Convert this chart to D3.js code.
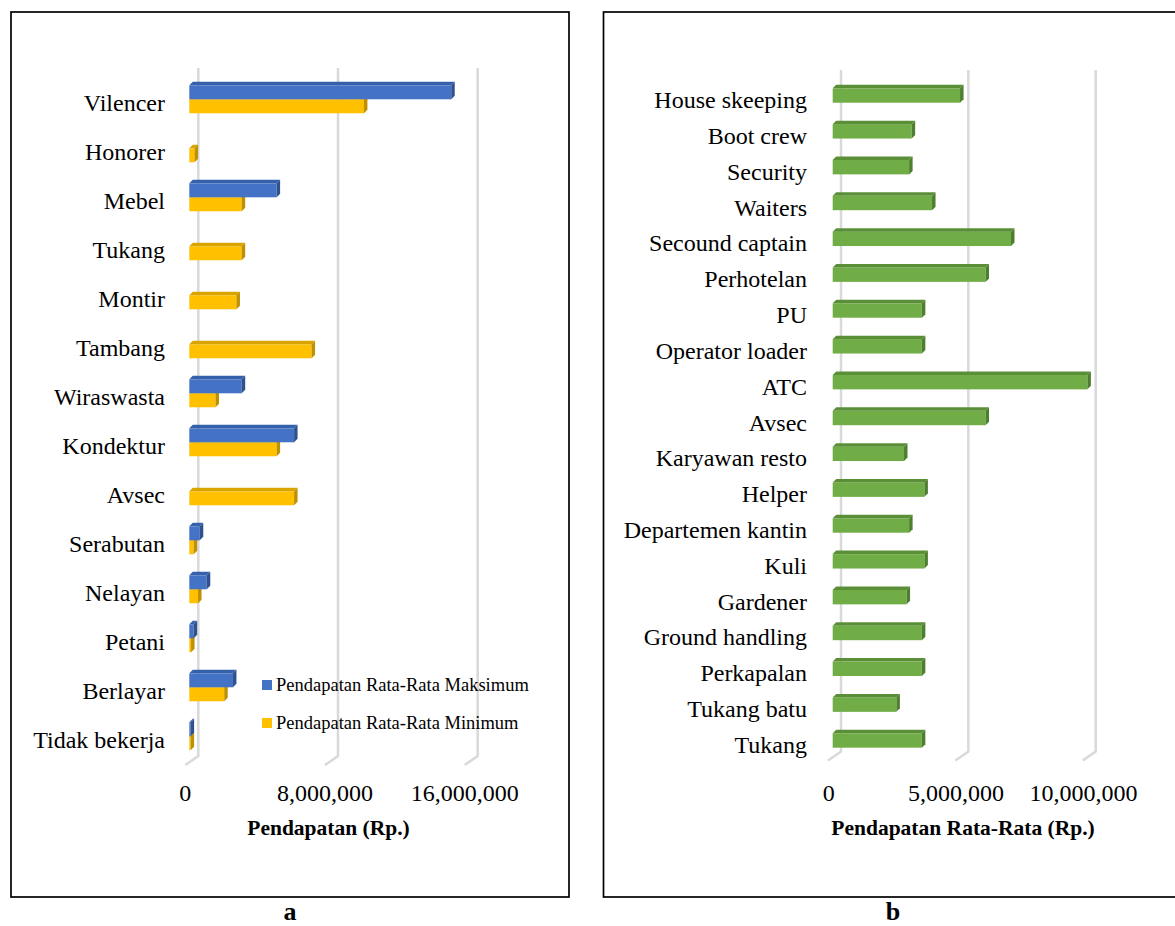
<!DOCTYPE html>
<html>
<head>
<meta charset="utf-8">
<script src="https://cdn.jsdelivr.net/npm/d3@7"></script>
<style>
	body { margin: 0; background: #fff; }
	svg { display: block; font-family: "Liberation Serif", "Times New Roman", serif; }
</style>
</head>
<body>
<svg id="chart" width="1175" height="926"></svg>
<script>
// =================================================
// data
// =================================================
var catsA = ['Vilencer', 'Honorer', 'Mebel', 'Tukang', 'Montir', 'Tambang', 'Wiraswasta',
	'Kondektur', 'Avsec', 'Serabutan', 'Nelayan', 'Petani', 'Berlayar', 'Tidak bekerja'];
var maxA = [15000000, 0, 5000000, 0, 0, 0, 3000000, 6000000, 0, 600000, 1000000, 250000, 2500000, 75000];
var minA = [10000000, 300000, 3000000, 3000000, 2700000, 7000000, 1500000, 5000000, 6000000, 250000, 500000, 100000, 2000000, 75000];
var ticksA = [0, 8000000, 16000000];
var seriesA = ['Pendapatan Rata-Rata Maksimum', 'Pendapatan Rata-Rata Minimum'];

var catsB = ['House skeeping', 'Boot crew', 'Security', 'Waiters', 'Secound captain', 'Perhotelan',
	'PU', 'Operator loader', 'ATC', 'Avsec', 'Karyawan resto', 'Helper', 'Departemen kantin',
	'Kuli', 'Gardener', 'Ground handling', 'Perkapalan', 'Tukang batu', 'Tukang'];
var valB = [5000000, 3100000, 3000000, 3900000, 7000000, 6000000, 3500000, 3500000, 10000000,
	6000000, 2800000, 3600000, 3000000, 3600000, 2900000, 3500000, 3500000, 2500000, 3500000];
var ticksB = [0, 5000000, 10000000];

var svg = d3.select('#chart'),
	fmt = d3.format(','),
	D = 3.5; // bar depth

var colors = {
	blue: { front: '#4472C4', top: '#3560AC', side: '#2F528F' },
	gold: { front: '#FFC000', top: '#D9A300', side: '#BF9000' },
	green: { front: '#70AD47', top: '#5A8F37', side: '#4E7F2E' }
};

// one 3d bar: front face, top face, right face
function bar3d(g, x0, y, w, h, c) {
	g.append('rect').attr('x', x0).attr('y', y).attr('width', w).attr('height', h).attr('fill', c.front);
	g.append('polygon')
		.attr('points', [[x0, y], [x0 + D, y - D], [x0 + w + D, y - D], [x0 + w, y]].join(' '))
		.attr('fill', c.top);
	g.append('polygon')
		.attr('points', [[x0 + w, y], [x0 + w + D, y - D], [x0 + w + D, y + h - D], [x0 + w, y + h]].join(' '))
		.attr('fill', c.side);
}

// back wall gridlines + floor edge + tick labels
function grid(g, x, ticks, top, bottom, back) {
	ticks.forEach(function(t) {
		var gx = x(t) + back;
		g.append('path')
			.attr('d', 'M' + gx + ',' + top + 'V' + bottom + 'L' + (gx - 13) + ',' + (bottom + 9))
			.attr('fill', 'none').attr('stroke', '#d9d9d9').attr('stroke-width', 2.5);
		g.append('text')
			.attr('x', x(t) - 4).attr('y', 801)
			.attr('text-anchor', 'middle').attr('font-size', 24)
			.text(fmt(t));
	});
}

// =================================================
// panel a
// =================================================
(function() {
	var g = svg.append('g');
	g.append('rect').attr('x', 11).attr('y', 12).attr('width', 558).attr('height', 885)
		.attr('fill', 'none').attr('stroke', '#000').attr('stroke-width', 1.7);

	var x = d3.scaleLinear().domain([0, 16000000]).range([189.3, 468.7]);
	var y = d3.scaleBand().domain(catsA).range([74.8, 760.8]).paddingInner(0.43).paddingOuter(0.215);
	var sub = d3.scaleBand().domain(['max', 'min']).range([0, y.bandwidth()]);

	grid(g, x, ticksA, 68, 756, 9);

	catsA.forEach(function(c, i) {
		var y0 = y(c);
		if (minA[i] > 0) bar3d(g, x(0), y0 + sub('min'), x(minA[i]) - x(0), sub.bandwidth(), colors.gold);
		if (maxA[i] > 0) bar3d(g, x(0), y0 + sub('max'), x(maxA[i]) - x(0), sub.bandwidth(), colors.blue);
		g.append('text')
			.attr('x', 165).attr('y', y0 + y.bandwidth() / 2 + 11.7)
			.attr('text-anchor', 'end').attr('font-size', 24)
			.text(c);
	});

	// legend
	var lg = g.append('g').attr('transform', 'translate(262,680)');
	seriesA.forEach(function(s, i) {
		lg.append('rect').attr('x', 0).attr('y', i * 38).attr('width', 10).attr('height', 10)
			.attr('fill', i == 0 ? colors.blue.front : colors.gold.front);
		lg.append('text').attr('x', 14).attr('y', i * 38 + 11).attr('font-size', 18.5).text(s);
	});

	g.append('text').attr('x', 328.5).attr('y', 835).attr('text-anchor', 'middle')
		.attr('font-size', 21.5).attr('font-weight', 'bold').text('Pendapatan (Rp.)');
	g.append('text').attr('x', 290).attr('y', 920).attr('text-anchor', 'middle')
		.attr('font-size', 26).attr('font-weight', 'bold').text('a');
})();

// =================================================
// panel b
// =================================================
(function() {
	var g = svg.append('g');
	g.append('rect').attr('x', 603.5).attr('y', 12).attr('width', 600).attr('height', 885)
		.attr('fill', 'none').attr('stroke', '#000').attr('stroke-width', 1.7);

	var x = d3.scaleLinear().domain([0, 10000000]).range([832.7, 1087.4]);
	var y = d3.scaleBand().domain(catsB).range([77.6, 758.4]).paddingInner(0.598).paddingOuter(0.299);

	grid(g, x, ticksB, 70, 751.5, 8.3);

	catsB.forEach(function(c, i) {
		var y0 = y(c);
		bar3d(g, x(0), y0, x(valB[i]) - x(0), y.bandwidth(), colors.green);
		g.append('text')
			.attr('x', 807).attr('y', y0 + y.bandwidth() / 2 + 12.5)
			.attr('text-anchor', 'end').attr('font-size', 24)
			.text(c);
	});

	g.append('text').attr('x', 963).attr('y', 835).attr('text-anchor', 'middle')
		.attr('font-size', 21.5).attr('font-weight', 'bold').text('Pendapatan Rata-Rata (Rp.)');
	g.append('text').attr('x', 893).attr('y', 920).attr('text-anchor', 'middle')
		.attr('font-size', 26).attr('font-weight', 'bold').text('b');
})();
</script>
</body>
</html>
